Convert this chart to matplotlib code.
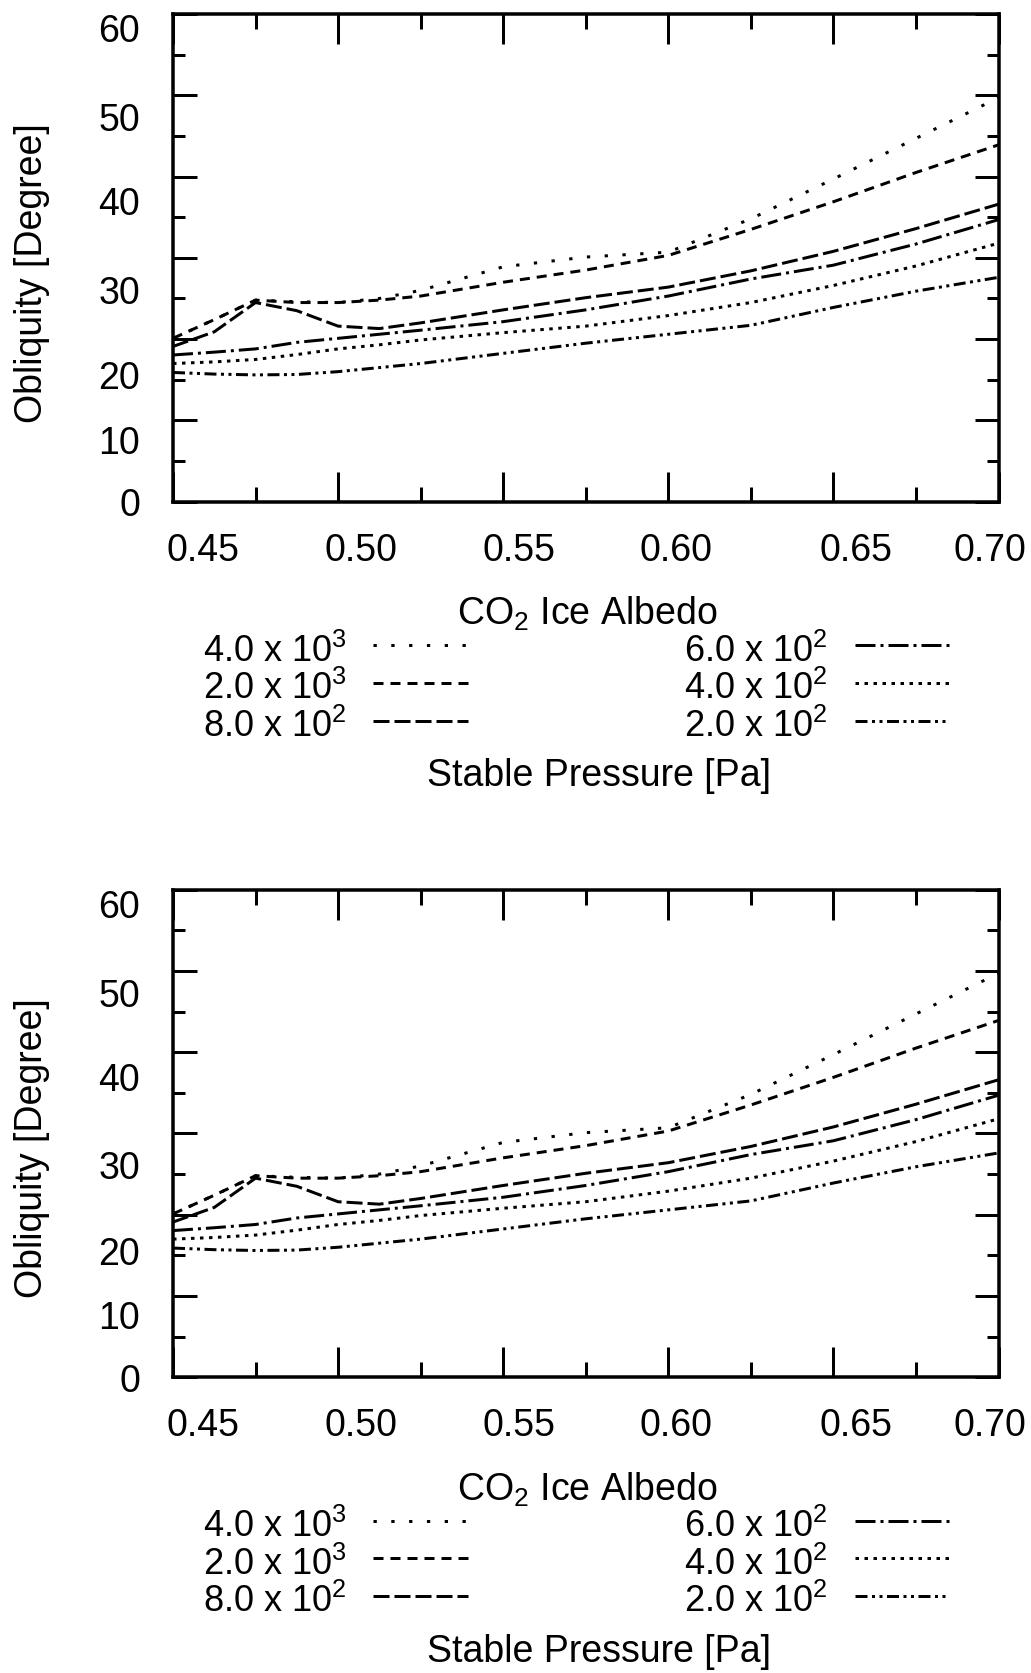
import matplotlib
matplotlib.use("Agg")
import matplotlib.pyplot as plt
from matplotlib.lines import Line2D

plt.rcParams['font.family'] = ['Liberation Sans', 'DejaVu Sans']
plt.rcParams['mathtext.fontset'] = 'custom'
plt.rcParams['mathtext.rm'] = 'Liberation Sans'
plt.rcParams['mathtext.it'] = 'Liberation Sans:italic'
plt.rcParams['mathtext.bf'] = 'Liberation Sans:bold'
plt.rcParams['mathtext.default'] = 'regular'
plt.rcParams['lines.scale_dashes'] = False

# ---------------- data ----------------
albedo = [0.45, 0.4625, 0.475, 0.4875, 0.50, 0.5125, 0.525, 0.55, 0.575,
          0.60, 0.625, 0.65, 0.675, 0.70]

obl_4000 = [20.1, 22.4, 24.8, 24.6, 24.5, 25.0, 26.0, 28.9, 30.1, 30.7, 34.8, 39.7, 44.7, 49.7]
obl_2000 = [20.1, 22.4, 24.8, 24.5, 24.5, 24.8, 25.3, 27.0, 28.5, 30.3, 33.5, 36.9, 40.5, 43.9]
obl_800 = [19.1, 20.9, 24.5, 23.5, 21.6, 21.3, 22.0, 23.6, 25.1, 26.4, 28.4, 30.8, 33.6, 36.6]
obl_600 = [18.05, 18.4, 18.8, 19.6, 20.1, 20.6, 21.1, 22.15, 23.6, 25.3, 27.4, 29.1, 31.7, 34.7]
obl_400 = [17.0, 17.2, 17.5, 18.1, 18.8, 19.3, 19.9, 20.8, 21.6, 22.9, 24.5, 26.6, 29.0, 31.8]
obl_200 = [15.9, 15.7, 15.6, 15.65, 16.0, 16.5, 17.0, 18.25, 19.5, 20.6, 21.7, 23.9, 25.9, 27.6]

series = [obl_4000, obl_2000, obl_800, obl_600, obl_400, obl_200]
series_labels = [r'4.0 x 10$^3$', r'2.0 x 10$^3$', r'8.0 x 10$^2$',
                 r'6.0 x 10$^2$', r'4.0 x 10$^2$', r'2.0 x 10$^2$']

xtick_labels = ['0.45', '0.50', '0.55', '0.60', '0.65', '0.70']
ytick_labels = ['60', '50', '40', '30', '20', '10', '0']

# ---------------- layout (pixels) ----------------
W, H, DPI = 1031, 1673, 100
PX = 72.0 / DPI  # points per pixel

AX_L, AX_R = 173.0, 998.5
AX_T, AX_B = 14.0, 501.7
PANEL_OFFSET = 875.6

xlabel_px = [203, 360.7, 518.7, 675.8, 855.8, 990]
xlabel_base = 560.7
ylabel_base = [42.5, 131.0, 215.0, 303.5, 389.0, 453.5, 516.0]
ylabel_right = 140

dash_px = [(3.3, 14.5), (10, 7), (16, 5), (20, 5, 3, 5), (3.5, 5.5), (12, 4.5, 3, 4.5, 3, 4.5)]
LW = 3.0 * PX

fig = plt.figure(figsize=(W / DPI, H / DPI), dpi=DPI)


def fx(x):
    return x / W


def fy(y):
    return 1 - y / H


for panel in range(2):
    off = panel * PANEL_OFFSET
    ax = fig.add_axes([fx(AX_L), fy(AX_B + off), (AX_R - AX_L) / W, (AX_B - AX_T) / H])
    for ys, d in zip(series, dash_px):
        ax.plot(albedo, ys, color='black', lw=LW,
                dashes=[v * PX for v in d], dash_capstyle='butt')
    ax.set_xlim(0.45, 0.70)
    ax.set_ylim(0, 60)
    ax.set_xticks([0.45, 0.50, 0.55, 0.60, 0.65, 0.70])
    ax.set_xticks([0.475, 0.525, 0.575, 0.625, 0.675], minor=True)
    ax.set_yticks(range(0, 61, 10))
    ax.set_yticks(range(5, 60, 10), minor=True)
    ax.tick_params(which='both', direction='in', top=True, right=True,
                   labelbottom=False, labelleft=False, width=3.0 * PX, color='black')
    ax.tick_params(axis='x', which='major', length=30 * PX)
    ax.tick_params(axis='x', which='minor', length=15 * PX)
    ax.tick_params(axis='y', which='major', length=24 * PX)
    ax.tick_params(axis='y', which='minor', length=12 * PX)
    for s in ax.spines.values():
        s.set_linewidth(3.5 * PX)

    # tick labels
    for xp, lab in zip(xlabel_px, xtick_labels):
        fig.text(fx(xp), fy(xlabel_base + off), lab, ha='center', va='baseline', fontsize=27)
    for yb, lab in zip(ylabel_base, ytick_labels):
        fig.text(fx(ylabel_right), fy(yb + off), lab, ha='right', va='baseline', fontsize=27)

    fig.text(fx(32), fy(273 + off), 'Obliquity [Degree]', rotation=90,
             ha='center', va='center', fontsize=27)
    fig.text(fx(587.5), fy(625 + off), r'CO$_2$ Ice Albedo', ha='center', va='baseline', fontsize=27)

    # legend
    row_base = [661.7, 699.3, 736.7]
    row_line = [645, 682.7, 720.7]
    for i, (lab, d) in enumerate(zip(series_labels, dash_px)):
        col, row = divmod(i, 3)
        tx = 202.7 if col == 0 else 684
        lx0, lx1 = (373, 468) if col == 0 else (855, 949)
        fig.text(fx(tx), fy(row_base[row] + off), lab, ha='left', va='baseline', fontsize=26)
        fig.add_artist(Line2D([fx(lx0), fx(lx1)], [fy(row_line[row] + off)] * 2,
                              transform=fig.transFigure, color='black', lw=LW,
                              dashes=[v * PX for v in d], dash_capstyle='butt'))
    fig.text(fx(599), fy(786 + off), 'Stable Pressure [Pa]', ha='center', va='baseline', fontsize=27)

fig.savefig('out.png', dpi=DPI, facecolor='white')
